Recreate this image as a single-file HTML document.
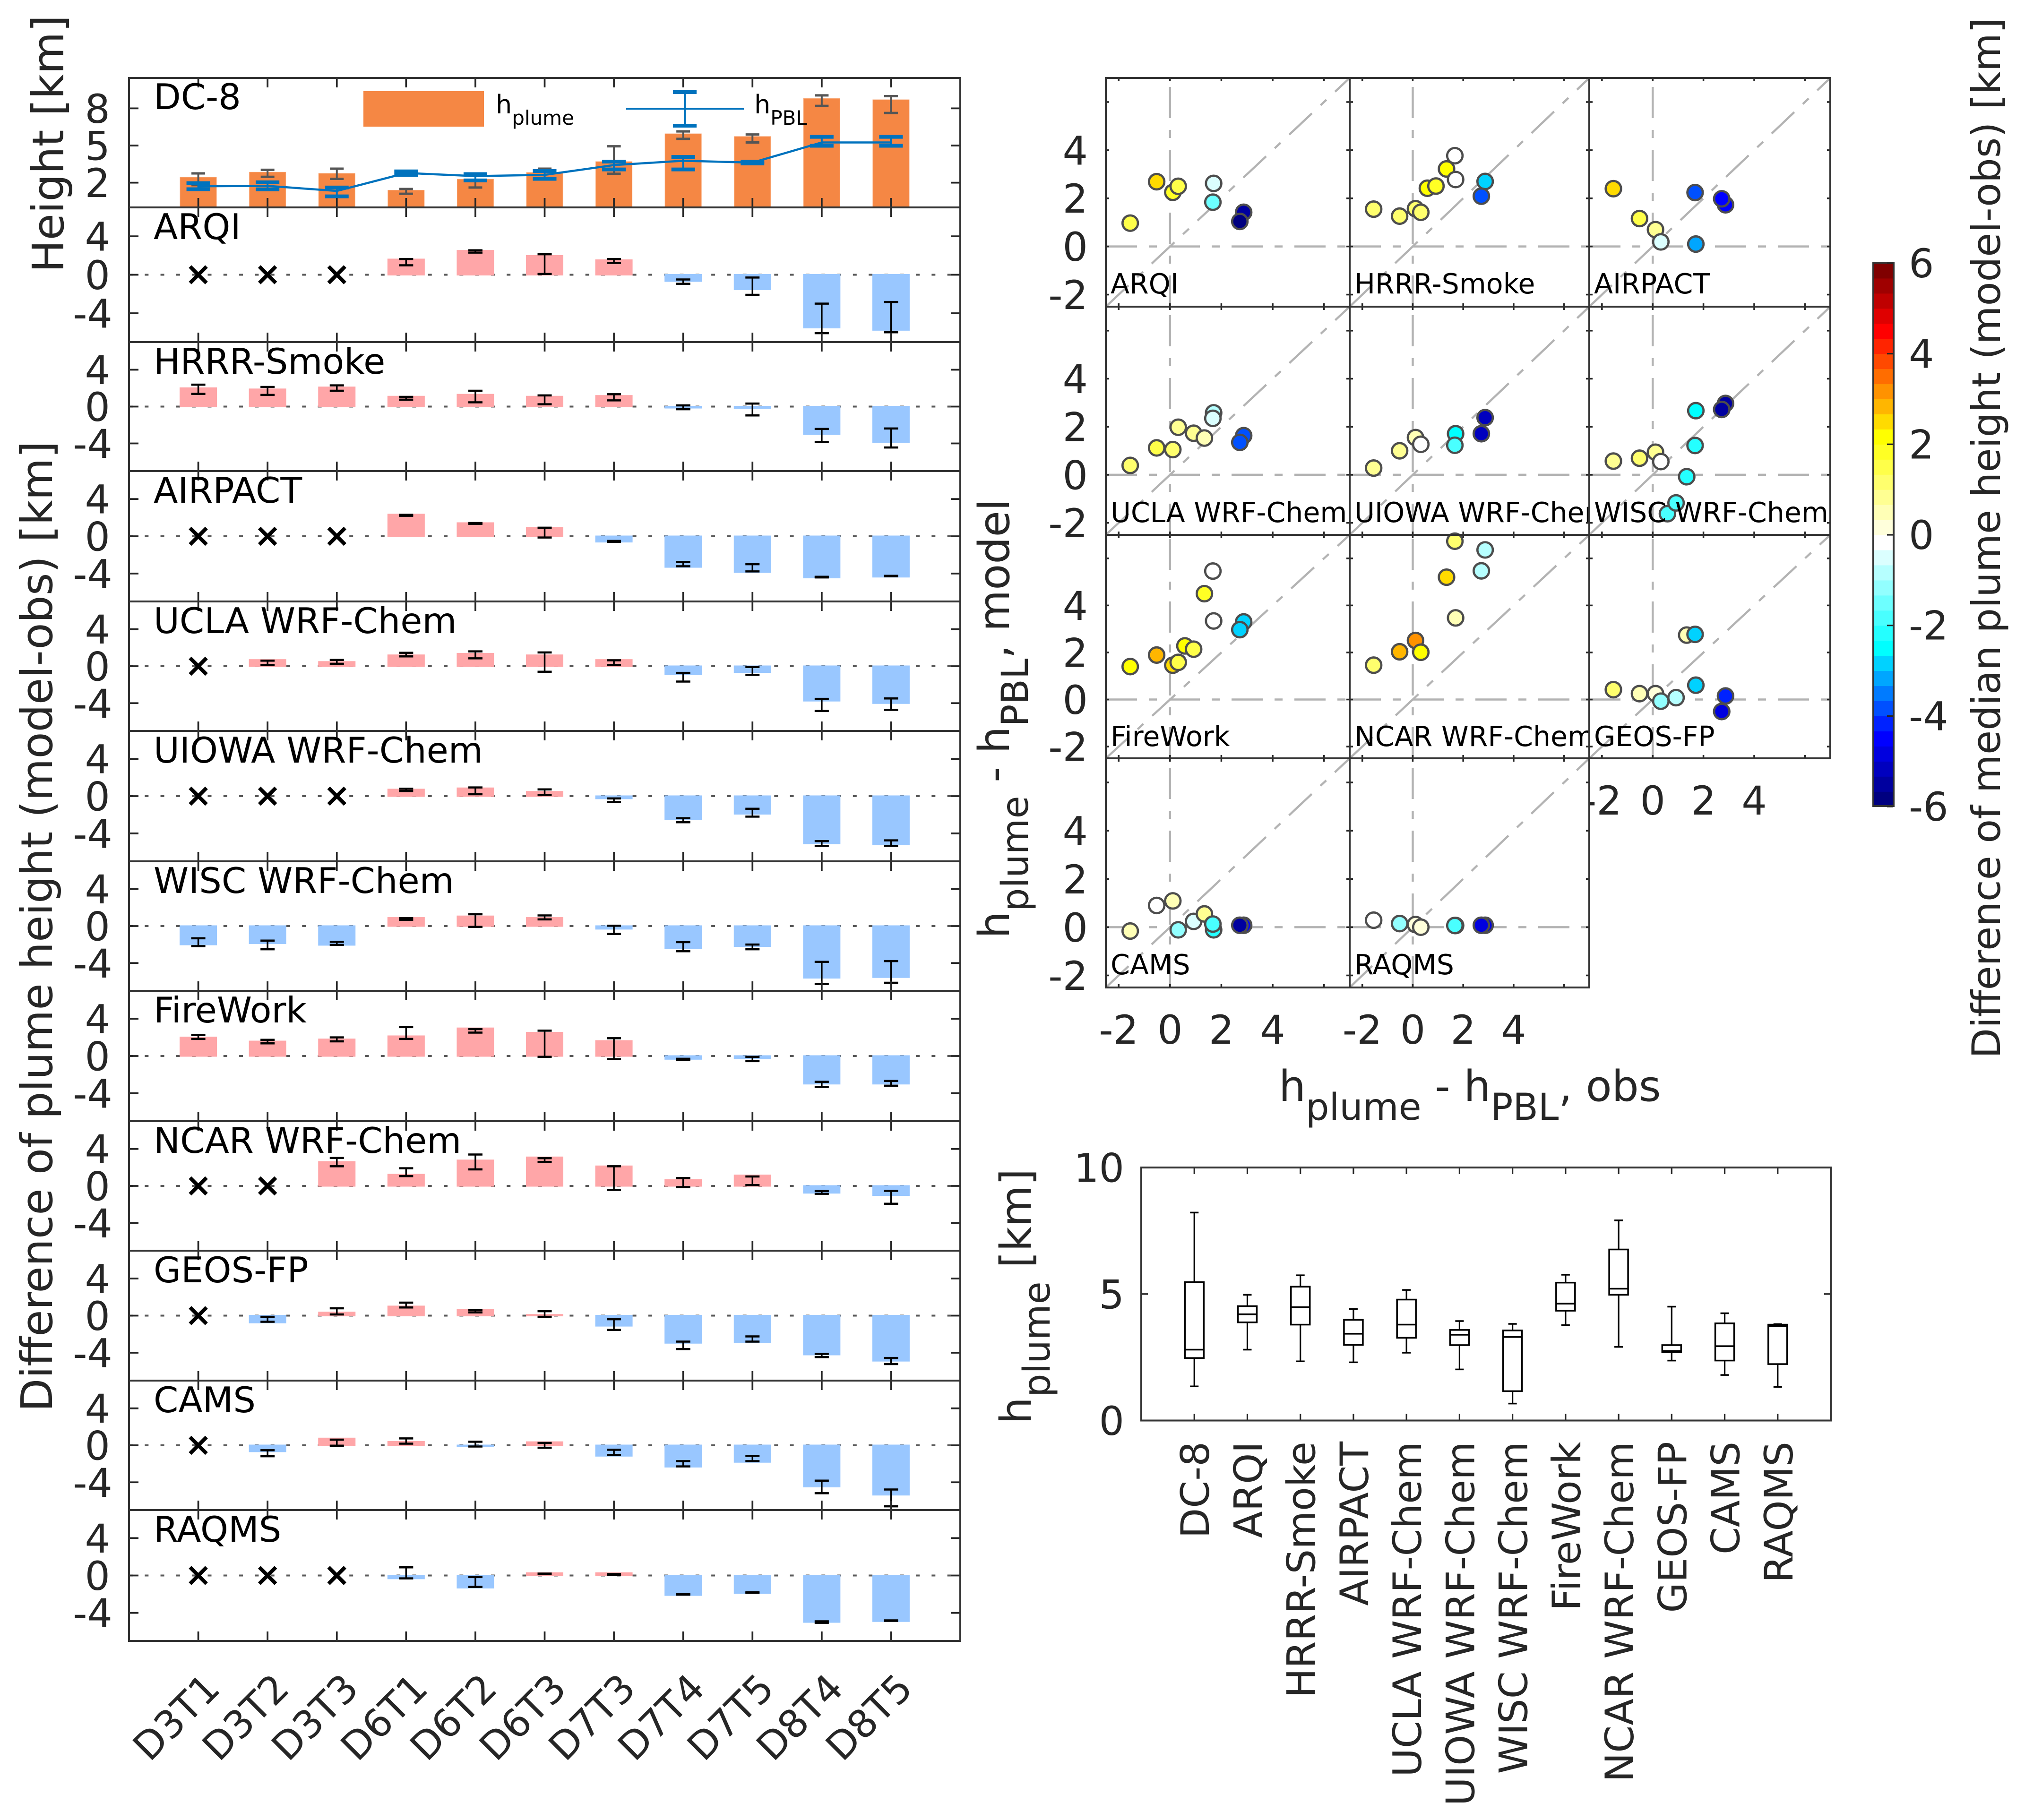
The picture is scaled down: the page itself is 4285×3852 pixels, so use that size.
<!DOCTYPE html>
<html lang="en">
<head>
<meta charset="utf-8">
<title>Plume height comparison</title>
<style>
html,body{margin:0;padding:0;background:#fff;}
svg{display:block;font-family:"DejaVu Sans","Liberation Sans",sans-serif;}
text{white-space:pre;}
</style>
</head>
<body>
<svg id="fig" xmlns="http://www.w3.org/2000/svg" width="4285" height="3852" viewBox="0 0 4285 3852">
<rect x="0" y="0" width="4285" height="3852" fill="#fff"/>
<g id="barPanels"></g>
<g id="scatterPanels"></g>
<g id="boxPanel"></g>
<g id="colorbar"></g>
<g id="legend">
<rect x="769" y="193" width="255" height="75" fill="#F58744"/>
<text x="1049" y="240" font-size="54" fill="#000">h<tspan dy="24" font-size="42">plume</tspan></text>
<line x1="1325" y1="230" x2="1574" y2="230" stroke="#0072BD" stroke-width="4"/>
<line x1="1449" y1="195" x2="1449" y2="266" stroke="#0072BD" stroke-width="4"/>
<line x1="1424" y1="195" x2="1474" y2="195" stroke="#0072BD" stroke-width="8"/>
<line x1="1424" y1="266" x2="1474" y2="266" stroke="#0072BD" stroke-width="8"/>
<text x="1596" y="240" font-size="54" fill="#000">h<tspan dy="24" font-size="42">PBL</tspan></text>
</g>
<text transform="translate(134,577) rotate(-90)" font-size="91.5" fill="#262626">Height [km]</text>
<text transform="translate(110,2988) rotate(-90)" font-size="91.7" fill="#262626">Difference of plume height (model-obs) [km]</text>
<text transform="translate(2135,1986) rotate(-90)" font-size="90" fill="#262626">h<tspan dy="40" font-size="78">plume</tspan><tspan dy="-40"> - h</tspan><tspan dy="40" font-size="78">PBL</tspan><tspan dy="-40">, model</tspan></text>
<text x="2706" y="2330" font-size="90" fill="#262626">h<tspan dy="40" font-size="78">plume</tspan><tspan dy="-40"> - h</tspan><tspan dy="40" font-size="78">PBL</tspan><tspan dy="-40">, obs</tspan></text>
<text transform="translate(2181,3014) rotate(-90)" font-size="90" fill="#262626">h<tspan dy="40" font-size="78">plume</tspan><tspan dy="-40"> [km]</tspan></text>
<text transform="translate(4232,2240) rotate(-90)" font-size="83.2" fill="#262626">Difference of median plume height (model-obs) [km]</text>
</svg>
<script>
/* ---------- chart data ---------- */
const caseLabels=['D3T1','D3T2','D3T3','D6T1','D6T2','D6T3','D7T3','D7T4','D7T5','D8T4','D8T5'];
const diffTicks=[4,0,-4];
const heightTicks=[2,5,8];

const dc8Plume=[2.44,2.85,2.75,1.39,2.28,2.82,3.7,5.95,5.73,8.8,8.7];
const dc8PlumeHi=[2.75,3.04,3.13,1.49,2.69,3.13,4.94,6.14,5.89,9.05,8.99];
const dc8PlumeLo=[1.8,2.47,2.31,1.1,1.61,2.37,2.72,5.54,5.25,8.2,7.63];
const dc8Pbl=[1.71,1.74,1.33,2.78,2.53,2.63,3.42,3.77,3.62,5.25,5.25];
const dc8PblHi=[1.96,2.03,1.61,2.91,2.69,2.94,3.7,4.08,3.7,5.7,5.7];
const dc8PblLo=[1.47,1.46,0.89,2.63,2.18,2.31,3.07,3.07,3.55,4.98,4.98];

const arqiDiff=[null,null,null,1.6,2.5,1.97,1.52,-0.66,-1.52,-5.5,-5.74];
const arqiHi=[null,null,null,1.64,2.54,2.13,1.64,-0.49,-0.29,-3,-2.83];
const arqiLo=[null,null,null,0.98,2.3,0.08,1.23,-0.94,-2.09,-6.07,-5.98];
const hrrrDiff=[2,1.88,2.09,1.09,1.3,1.09,1.17,-0.13,-0.17,-3,-3.85];
const hrrrHi=[2.38,2.13,2.3,1.05,1.72,1.21,1.34,0.13,0.33,-2.43,-2.38];
const hrrrLo=[1.38,1.26,1.72,0.75,0.46,0.25,0.67,-0.29,-0.96,-3.85,-4.44];
const airpactDiff=[null,null,null,2.34,1.42,0.92,-0.59,-3.3,-3.85,-4.44,-4.35];
const airpactHi=[null,null,null,2.3,1.42,0.92,-0.5,-2.76,-3,-4.35,-4.25];
const airpactLo=[null,null,null,2.2,1.34,-0.13,-0.6,-3.22,-3.77,-4.42,-4.3];
const uclaDiff=[null,0.68,0.47,1.19,1.36,1.19,0.68,-0.89,-0.64,-3.74,-4];
const uclaHi=[null,0.6,0.68,1.45,1.6,1.49,0.64,-0.72,-0.09,-3.53,-3.49];
const uclaLo=[null,0.13,0.26,1.06,0.85,-0.6,0.13,-1.66,-0.94,-4.85,-4.72];
const uiowaDiff=[null,null,null,0.72,0.85,0.47,-0.25,-2.5,-1.9,-5.08,-5.2];
const uiowaHi=[null,null,null,0.8,0.93,0.72,-0.25,-2.37,-1.36,-4.83,-4.75];
const uiowaLo=[null,null,null,0.55,0.2,0.13,-0.64,-2.8,-2.2,-5.34,-5.34];
const wiscDiff=[-2,-1.87,-2.04,0.89,1.06,0.89,-0.3,-2.38,-2.17,-5.6,-5.53];
const wiscHi=[-1.32,-1.57,-1.7,0.85,1.28,1.15,0.04,-1.74,-2,-3.87,-3.79];
const wiscLo=[-2.17,-2.51,-2.04,0.68,-0.09,0.72,-0.85,-2.72,-2.51,-6.26,-6.13];
const fireworkDiff=[2,1.57,1.79,2.13,2.98,2.51,1.62,-0.32,-0.26,-2.98,-2.98];
const fireworkHi=[2.26,1.74,2,3.1,2.89,2.72,1.91,-0.3,-0.09,-2.77,-2.68];
const fireworkLo=[1.83,1.36,1.57,1.83,2.51,-0.09,-0.34,-0.43,-0.55,-3.32,-3.19];
const ncarDiff=[null,null,2.6,1.23,2.77,3.1,2.13,0.64,1.15,-0.75,-1];
const ncarHi=[null,null,3.02,1.91,3.4,3,2.13,0.85,1.02,-0.55,-0.53];
const ncarLo=[null,null,2.13,1.06,1.79,2.6,-0.43,-0.13,0.09,-0.85,-1.93];
const geosDiff=[null,-0.75,0.35,1,0.66,0.09,-1.1,-2.94,-2.9,-4.2,-4.87];
const geosHi=[null,-0.13,0.79,1.4,0.61,0.48,-0.39,-2.8,-2.24,-4.12,-4.56];
const geosLo=[null,-0.66,0.13,0.88,0.35,-0.13,-1.54,-3.6,-2.8,-4.47,-5.22];
const camsDiff=[null,-0.66,0.75,0.39,-0.13,0.35,-1.14,-2.32,-1.8,-4.47,-5.35];
const camsHi=[null,-0.53,0.61,0.75,0.39,0.26,-0.48,-1.71,-1.14,-3.82,-4.78];
const camsLo=[null,-1.18,-0.04,0.18,-0.13,-0.26,-1.05,-2.28,-1.71,-5.18,-6.6];
const raqmsDiff=[null,null,null,-0.32,-1.31,0.26,0.26,-2.1,-1.88,-4.98,-4.89];
const raqmsHi=[null,null,null,0.87,-0.17,0.2,0.15,-2,-1.8,-4.9,-4.8];
const raqmsLo=[null,null,null,-0.31,-1.22,0.15,0.05,-2.05,-1.85,-5.06,-4.85];

const scatterTicks=[-2,0,2,4];
const scatterMinorTicks=[-2,0,2,4,6];
const obsExcess=[0.58,0.92,1.34,-1.55,-0.52,0.11,0.32,1.7,1.67,2.87,2.72];
const arqiExcess=[null,null,null,0.97,2.69,2.25,2.5,2.62,1.84,1.42,1.04];
const hrrrExcess=[2.42,2.51,3.22,1.55,1.26,1.57,1.42,2.78,3.77,2.7,2.09];
const airpactExcess=[null,null,null,2.4,1.16,0.7,0.19,0.1,2.24,1.73,1.98];
const uclaExcess=[null,1.73,1.53,0.39,1.12,1.05,1.98,2.58,2.35,1.63,1.35];
const uiowaExcess=[null,null,null,0.28,1,1.55,1.27,1.71,1.23,2.38,1.71];
const wiscExcess=[-1.62,-1.17,-0.08,0.57,0.69,0.94,0.55,2.67,1.22,2.97,2.72];
const fireworkExcess=[2.28,2.14,4.5,1.4,1.89,1.46,1.58,3.34,5.46,3.3,2.97];
const ncarExcess=[null,null,5.2,1.46,2.03,2.51,2.01,3.47,6.73,6.36,5.47];
const geosExcess=[null,0.08,2.74,0.42,0.25,0.25,-0.07,0.61,2.77,0.15,-0.51];
const camsExcess=[null,0.24,0.55,-0.16,0.9,1.09,-0.11,-0.11,0.13,0.08,0.08];
const raqmsExcess=[null,null,null,0.29,0.15,0.11,0,0.07,0.07,0.08,0.08];

const boxLabels=['DC-8','ARQI','HRRR-Smoke','AIRPACT','UCLA WRF-Chem','UIOWA WRF-Chem','WISC WRF-Chem','FireWork','NCAR WRF-Chem','GEOS-FP','CAMS','RAQMS'];
const boxWhiskerHigh=[8.22,4.97,5.74,4.41,5.16,3.93,3.82,5.76,7.91,4.5,4.24,3.81];
const boxQ3=[5.47,4.52,5.29,3.98,4.78,3.58,3.56,5.45,6.76,2.98,3.84,3.79];
const boxMedian=[2.8,4.2,4.48,3.43,3.79,3.39,3.3,4.62,5.21,2.75,2.94,3.74];
const boxQ1=[2.47,3.88,3.79,2.99,3.27,2.98,1.16,4.34,4.97,2.7,2.37,2.23];
const boxWhiskerLow=[1.35,2.8,2.34,2.3,2.68,2.02,0.67,3.77,2.91,2.37,1.8,1.33];
const boxTicks=[0,5,10];

const colorbarTicks=[6,4,2,0,-2,-4,-6];
const colorbarLevels=['#000080','#00009F','#0000BF','#0000DF','#0000FF','#0022FF','#0050FF','#007BFF','#00A6FF','#00D2FF','#00FFFF','#24FFFF','#49FFFF','#6DFFFF','#92FFFF','#B6FFFF','#DBFFFF','#FFFFFF','#FFFFDB','#FFFFB6','#FFFF92','#FFFF6D','#FFFF49','#FFFF24','#FFFF00','#FFDB00','#FFB600','#FF9200','#FF6D00','#FF4900','#FF2400','#FF0000','#DF0000','#BF0000','#9F0000','#800000'];

const modelRuns=[
 {name:'ARQI',diff:arqiDiff,hi:arqiHi,lo:arqiLo,excess:arqiExcess},
 {name:'HRRR-Smoke',diff:hrrrDiff,hi:hrrrHi,lo:hrrrLo,excess:hrrrExcess},
 {name:'AIRPACT',diff:airpactDiff,hi:airpactHi,lo:airpactLo,excess:airpactExcess},
 {name:'UCLA WRF-Chem',diff:uclaDiff,hi:uclaHi,lo:uclaLo,excess:uclaExcess},
 {name:'UIOWA WRF-Chem',diff:uiowaDiff,hi:uiowaHi,lo:uiowaLo,excess:uiowaExcess},
 {name:'WISC WRF-Chem',diff:wiscDiff,hi:wiscHi,lo:wiscLo,excess:wiscExcess},
 {name:'FireWork',diff:fireworkDiff,hi:fireworkHi,lo:fireworkLo,excess:fireworkExcess},
 {name:'NCAR WRF-Chem',diff:ncarDiff,hi:ncarHi,lo:ncarLo,excess:ncarExcess},
 {name:'GEOS-FP',diff:geosDiff,hi:geosHi,lo:geosLo,excess:geosExcess},
 {name:'CAMS',diff:camsDiff,hi:camsHi,lo:camsLo,excess:camsExcess},
 {name:'RAQMS',diff:raqmsDiff,hi:raqmsHi,lo:raqmsLo,excess:raqmsExcess}
];

/* ---------- layout ---------- */
const NS='http://www.w3.org/2000/svg';
const AXIS='#333333', TICK='#262626';
const barLeft=273, barRight=2032;
const barEdges=[165,439,724,997,1273,1547,1823,2097,2373,2647,2922,3196,3473];
const scatterColEdges=[2340,2856,3363,3873];
const scatterRowEdges=[165,649,1132,1605,2090];
const scatterLabelBase=[621,1105,1579,2062];
const scatterMin=-2.5, scatterMax=7;

function make(tag,attrs,parent,content){
  const n=document.createElementNS(NS,tag);
  for(const k in attrs){n.setAttribute(k,attrs[k]);}
  if(content!==undefined){n.textContent=content;}
  parent.appendChild(n);
  return n;
}
function caseX(i){return barLeft+(i+1)*(barRight-barLeft)/12;}

function drawFrame(g,x0,y0,x1,y1){
  const f=make('rect',{x:x0,y:y0,width:x1-x0,height:y1-y0,fill:'none',stroke:AXIS,'stroke-width':4},g);
  
  
}
function drawErr(g,x,yHi,yLo,cap,color,sw,capSw){
  const s=make('line',{x1:x,x2:x,y1:yHi,y2:yLo,stroke:color,'stroke-width':sw},g);
  
  
  const a=make('line',{x1:x-cap/2,x2:x+cap/2,y1:yHi,y2:yHi,stroke:color,'stroke-width':capSw},g);
  
  
  const b=make('line',{x1:x-cap/2,x2:x+cap/2,y1:yLo,y2:yLo,stroke:color,'stroke-width':capSw},g);
  
  
}
function drawBarTicks(g,top,bottom,tickYs,tickVals){
  caseLabels.forEach(function(c,i){
    const x=caseX(i);
    const t1=make('line',{x1:x,x2:x,y1:top,y2:top+20,stroke:TICK,'stroke-width':3.7},g);
    
    
    const t2=make('line',{x1:x,x2:x,y1:bottom,y2:bottom-20,stroke:TICK,'stroke-width':3.7},g);
    
    
  });
  tickYs.forEach(function(y,i){
    const l=make('line',{x1:barLeft,x2:barLeft+20,y1:y,y2:y,stroke:TICK,'stroke-width':3.7},g);
    
    
    const r=make('line',{x1:barRight,x2:barRight-20,y1:y,y2:y,stroke:TICK,'stroke-width':3.7},g);
    
    
    const t=make('text',{x:tickVals[i]<0?238:233,y:y+30.5,'text-anchor':'end','font-size':84,fill:TICK},g,String(tickVals[i]));
    
    
  });
}

/* ---------- DC-8 panel ---------- */
(function(){
  const root=document.getElementById('barPanels');
  const g=make('g',{},root);
  
  
  const top=barEdges[0], bottom=barEdges[1];
  const y=function(v){return bottom-v*26.2;};
  dc8Plume.forEach(function(v,i){
    const r=make('rect',{x:caseX(i)-38.5,y:y(v),width:77,height:bottom-y(v),fill:'#F58744',stroke:'#F9A877','stroke-width':1},g);
    
    
    drawErr(g,caseX(i),y(dc8PlumeHi[i]),y(dc8PlumeLo[i]),29,'#555555',4,5);
  });
  const pts=dc8Pbl.map(function(v,i){return caseX(i)+','+y(v);}).join(' ');
  const pl=make('polyline',{points:pts,fill:'none',stroke:'#0072BD','stroke-width':4.5},g);
  
  
  dc8Pbl.forEach(function(v,i){
    drawErr(g,caseX(i),y(dc8PblHi[i]),y(dc8PblLo[i]),50,'#0072BD',4,8);
  });
  drawBarTicks(g,top,bottom,heightTicks.map(y),heightTicks);
  const t=make('text',{x:325,y:top+66,'font-size':75,fill:'#000'},g,'DC-8');
  
  
  drawFrame(g,barLeft,top,barRight,bottom);
})();

/* ---------- model difference panels ---------- */
modelRuns.forEach(function(run,idx){
  const root=document.getElementById('barPanels');
  const g=make('g',{},root);
  
  
  const top=barEdges[idx+1], bottom=barEdges[idx+2];
  const zero=(top+bottom)/2, k=(bottom-top)/14;
  const y=function(v){return zero-v*k;};
  const z=make('line',{x1:barLeft,x2:barRight,y1:zero,y2:zero,stroke:'#595959','stroke-width':4,'stroke-dasharray':'8 25.3','stroke-dashoffset':-33.3},g);
  
  
  run.diff.forEach(function(v,i){
    const x=caseX(i);
    if(v===null){
      const m1=make('line',{x1:x-17.4,y1:zero-17.4,x2:x+17.4,y2:zero+17.4,stroke:'#000','stroke-width':8},g);
      
      
      const m2=make('line',{x1:x-17.4,y1:zero+17.4,x2:x+17.4,y2:zero-17.4,stroke:'#000','stroke-width':8},g);
      
      
      return;
    }
    const a=Math.min(y(v),zero), b=Math.max(y(v),zero);
    const r=make('rect',{x:x-38,y:a,width:76,height:b-a,fill:v>=0?'#FFA6A8':'#99C7FF',stroke:v>=0?'#FFA6A8':'#99C7FF','stroke-width':3},g);
    
    
    drawErr(g,x,y(run.hi[i]),y(run.lo[i]),30,'#000',3.5,4.5);
  });
  drawBarTicks(g,top,bottom,diffTicks.map(y),diffTicks);
  const t=make('text',{x:325,y:top+67,'font-size':75,fill:'#000'},g,run.name);
  
  
  drawFrame(g,barLeft,top,barRight,bottom);
});

/* case labels under the last panel */
caseLabels.forEach(function(c,i){
  const root=document.getElementById('barPanels');
  const ex=caseX(i)+50, ey=3578;
  const t=make('text',{transform:'translate('+ex+','+ey+') rotate(-45)','text-anchor':'end','font-size':81.5,fill:TICK},root,c);
  
  
});

/* ---------- scatter panels ---------- */
function levelColor(v){
  const idx=Math.max(0,Math.min(35,Math.floor((v+6)*3)));
  return colorbarLevels[idx];
}
modelRuns.forEach(function(run,idx){
  const root=document.getElementById('scatterPanels');
  const col=idx%3, row=Math.floor(idx/3);
  const x0=scatterColEdges[col], x1=scatterColEdges[col+1];
  const y0=scatterRowEdges[row], y1=scatterRowEdges[row+1];
  const sx=function(v){return x0+(v-scatterMin)*(x1-x0)/(scatterMax-scatterMin);};
  const sy=function(v){return y1-(v-scatterMin)*(y1-y0)/(scatterMax-scatterMin);};
  const g=make('g',{},root);
  
  
  const bg=make('rect',{x:x0,y:y0,width:x1-x0,height:y1-y0,fill:'#fff'},g);
  
  
  const refStyle={stroke:'#B3B3B3','stroke-width':4.5,'stroke-dasharray':'66 25 17 25',fill:'none'};
  const h=make('line',Object.assign({x1:x0,y1:sy(0),x2:x1,y2:sy(0)},refStyle),g);
  
  
  const v=make('line',Object.assign({x1:sx(0),y1:y1,x2:sx(0),y2:y0},refStyle),g);
  
  
  const d=make('line',Object.assign({x1:sx(scatterMin),y1:sy(scatterMin),x2:sx(scatterMax),y2:sy(scatterMax)},refStyle),g);
  
  
  run.excess.forEach(function(val,i){
    if(val===null){return;}
    const c=make('circle',{cx:sx(obsExcess[i]),cy:sy(val),r:16.3,fill:levelColor(run.diff[i]),stroke:'#4D4D4D','stroke-width':4.7},g);
    
    
  });
  scatterMinorTicks.forEach(function(tv){
    const tx=sx(tv), ty=sy(tv);
    const a=make('line',{x1:tx,x2:tx,y1:y1,y2:y1-7,stroke:TICK,'stroke-width':3.5},g);
    
    
    const b=make('line',{x1:tx,x2:tx,y1:y0,y2:y0+7,stroke:TICK,'stroke-width':3.5},g);
    
    
    const c=make('line',{x1:x0,x2:x0+7,y1:ty,y2:ty,stroke:TICK,'stroke-width':3.5},g);
    
    
    const e=make('line',{x1:x1,x2:x1-7,y1:ty,y2:ty,stroke:TICK,'stroke-width':3.5},g);
    
    
  });
  const t=make('text',{x:x0+10,y:scatterLabelBase[row],'font-size':58.5,fill:'#000'},g,run.name);
  
  
  drawFrame(g,x0,y0,x1,y1);
  scatterTicks.forEach(function(tv){
    if(col===0){
      const yl=make('text',{x:2302,y:sy(tv)+30.5,'text-anchor':'end','font-size':84,fill:TICK},g,String(tv));
      
      
    }
    if(idx>=8){
      const xl=make('text',{x:sx(tv),y:y1+119,'text-anchor':'middle','font-size':84,fill:TICK},g,String(tv));
      
      
    }
  });
});

/* ---------- box plot ---------- */
(function(){
  const g=document.getElementById('boxPanel');
  const x0=2415,x1=3874,y0=2471,y1=3006.5;
  const bx=function(i){return x0+(i+1)*(x1-x0)/13;};
  const by=function(v){return y1-v*(y1-y0)/10;};
  boxLabels.forEach(function(lab,i){
    const x=bx(i);
    const tb=make('line',{x1:x,x2:x,y1:y1,y2:y1-14,stroke:TICK,'stroke-width':3.2},g);
    
    
    const tt=make('line',{x1:x,x2:x,y1:y0,y2:y0+14,stroke:TICK,'stroke-width':3.2},g);
    
    
    const w=make('line',{x1:x,x2:x,y1:by(boxWhiskerHigh[i]),y2:by(boxWhiskerLow[i]),stroke:'#000','stroke-width':3.2},g);
    
    
    const c1=make('line',{x1:x-9,x2:x+9,y1:by(boxWhiskerHigh[i]),y2:by(boxWhiskerHigh[i]),stroke:'#000','stroke-width':3.5},g);
    
    
    const c2=make('line',{x1:x-9,x2:x+9,y1:by(boxWhiskerLow[i]),y2:by(boxWhiskerLow[i]),stroke:'#000','stroke-width':3.5},g);
    
    
    const r=make('rect',{x:x-20,y:by(boxQ3[i]),width:40,height:by(boxQ1[i])-by(boxQ3[i]),fill:'#fff',stroke:'#000','stroke-width':3.5},g);
    
    
    const m=make('line',{x1:x-20,x2:x+20,y1:by(boxMedian[i]),y2:by(boxMedian[i]),stroke:'#000','stroke-width':3.5},g);
    
    
    const t=make('text',{transform:'translate('+(x+31)+',3051) rotate(-90)','text-anchor':'end','font-size':83,fill:TICK},g,lab);
    
    
  });
  boxTicks.forEach(function(v){
    const a=make('line',{x1:x0,x2:x0+14,y1:by(v),y2:by(v),stroke:TICK,'stroke-width':3.2},g);
    
    
    const b=make('line',{x1:x1,x2:x1-14,y1:by(v),y2:by(v),stroke:TICK,'stroke-width':3.2},g);
    
    
    const t=make('text',{x:2379,y:by(v)+30.5,'text-anchor':'end','font-size':84,fill:TICK},g,String(v));
    
    
  });
  drawFrame(g,x0,y0,x1,y1);
})();

/* ---------- colorbar ---------- */
(function(){
  const g=document.getElementById('colorbar');
  const cy=function(v){return 1132-v*95.85;};
  colorbarLevels.forEach(function(col,i){
    const lo=-6+i/3, hi=lo+1/3;
    const b=make('rect',{x:3964,y:cy(hi),width:43,height:cy(lo)-cy(hi)+0.6,fill:col},g);
    
    
  });
  const f=make('rect',{x:3964,y:556,width:43,height:1150,fill:'none',stroke:AXIS,'stroke-width':4},g);
  
  
  colorbarTicks.forEach(function(v){
    const k=make('line',{x1:3993,x2:4006,y1:cy(v),y2:cy(v),stroke:TICK,'stroke-width':3.2},g);
    
    
    const t=make('text',{x:4039,y:cy(v)+30,'font-size':84,fill:TICK},g,String(v));
    
    
  });
})();
</script>
</body>
</html>
